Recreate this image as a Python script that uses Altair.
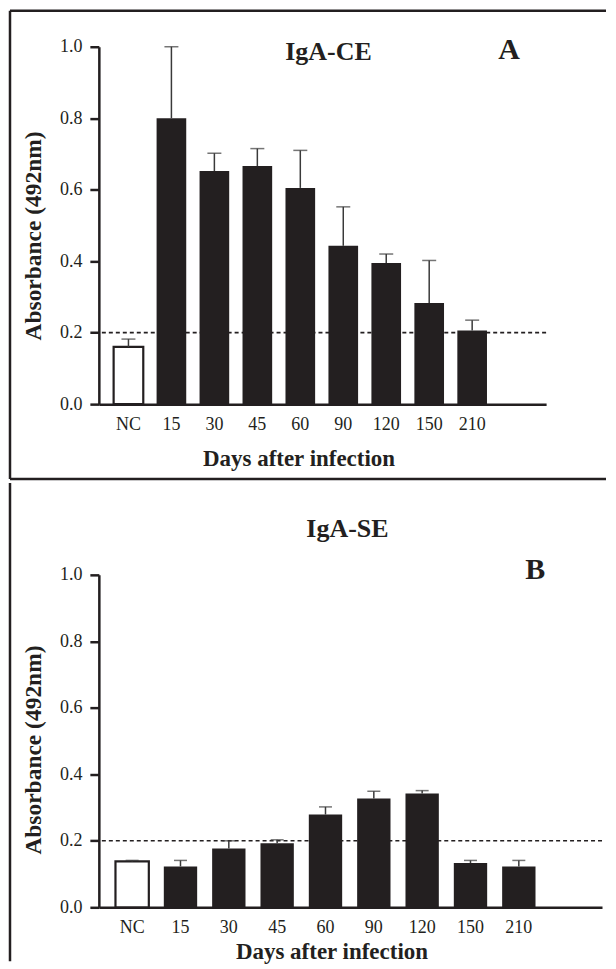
import altair as alt
import pandas as pd

days = ["NC", "15", "30", "45", "60", "90", "120", "150", "210"]
groups = ["NC", "inf", "inf", "inf", "inf", "inf", "inf", "inf", "inf"]

a_mean = [0.160, 0.800, 0.652, 0.666, 0.605, 0.443, 0.395, 0.283, 0.206]
a_upper = [0.182, 1.000, 0.702, 0.715, 0.710, 0.552, 0.420, 0.402, 0.235]

b_mean = [0.138, 0.123, 0.177, 0.193, 0.279, 0.327, 0.342, 0.133, 0.123]
b_upper = [0.141, 0.141, 0.200, 0.203, 0.302, 0.349, 0.351, 0.141, 0.141]

y_ticks = [0.0, 0.2, 0.4, 0.6, 0.8, 1.0]
cutoff = [0.2]

INK = "#231f20"
FONT = "Liberation Serif"
YTITLE = "Absorbance (492nm)"
XTITLE = "Days after infection"


def panel(mean, upper, W, H, title_txt, title_xy, letter, letter_xy,
          xtitle_xy, ytitle_xy, cap, frame):
    df = pd.DataFrame({"day": days, "mean": mean, "upper": upper, "grp": groups})
    xscale = alt.Scale(paddingInner=0.31, paddingOuter=0.86, align=0.2)
    yscale = alt.Scale(domain=[0, 1], nice=False)
    xaxis = alt.Axis(title=XTITLE, ticks=False, tickSize=0, labelPadding=11,
                     labelAngle=0, labelFont=FONT, labelFontSize=18, labelColor=INK,
                     domainColor=INK, domainWidth=2.5,
                     titleFont=FONT, titleFontSize=23, titleFontWeight="bold",
                     titleColor=INK, titleX=xtitle_xy[0], titleY=xtitle_xy[1],
                     titleBaseline="alphabetic", titleAlign="center")
    yaxis = alt.Axis(title=YTITLE, values=y_ticks, format=".1f", grid=False,
                     tickSize=9, tickWidth=2.5, tickColor=INK,
                     domainColor=INK, domainWidth=2.5, labelPadding=8,
                     labelFont=FONT, labelFontSize=18, labelColor=INK,
                     titleFont=FONT, titleFontSize=23.5, titleFontWeight="bold",
                     titleColor=INK, titleAngle=270, titleX=ytitle_xy[0],
                     titleY=ytitle_xy[1], titleBaseline="alphabetic",
                     titleAlign="center")
    x_main = alt.X("day:N", sort=days, scale=xscale, axis=xaxis)
    x_plain = alt.X("day:N", sort=days, scale=xscale)

    base = alt.Chart(df)
    thresh = alt.Chart(pd.DataFrame({"t": cutoff})).mark_rule(
        strokeDash=[4, 3], strokeWidth=1.6, color=INK
    ).encode(y=alt.Y("t:Q", scale=yscale, title=YTITLE))
    bars = base.mark_bar(stroke=INK).encode(
        x=x_main,
        y=alt.Y("mean:Q", scale=yscale, axis=yaxis, title=YTITLE),
        fill=alt.Fill("grp:N", scale=alt.Scale(domain=["NC", "inf"], range=["white", INK]), legend=None),
        strokeWidth=alt.StrokeWidth("grp:N", scale=alt.Scale(domain=["NC", "inf"], range=[2.2, 0]), legend=None),
    )
    stems = base.mark_rule(color="#3a3a3a", strokeWidth=1.5).encode(
        x=x_plain, y=alt.Y("mean:Q", scale=yscale, title=YTITLE), y2="upper:Q"
    )
    caps = base.mark_tick(color="#3a3a3a", thickness=1.5, size=cap).encode(
        x=x_plain, y=alt.Y("upper:Q", scale=yscale, title=YTITLE)
    )
    one = pd.DataFrame({"k": [0]})
    ttl = alt.Chart(pd.DataFrame({"t": [title_txt]})).mark_text(
        font=FONT, fontSize=26, fontWeight="bold", color=INK, align="center",
        baseline="alphabetic"
    ).encode(text="t:N", x=alt.value(title_xy[0]), y=alt.value(title_xy[1]))
    let = alt.Chart(pd.DataFrame({"t": [letter]})).mark_text(
        font=FONT, fontSize=30, fontWeight="bold", color=INK, align="center",
        baseline="alphabetic"
    ).encode(text="t:N", x=alt.value(letter_xy[0]), y=alt.value(letter_xy[1]))
    layers = [thresh, bars, stems, caps, ttl, let]
    for (x1, x2, y1, y2) in frame:
        enc = {"x": alt.value(x1), "y": alt.value(y1)}
        if x2 is not None:
            enc["x2"] = alt.value(x2)
        if y2 is not None:
            enc["y2"] = alt.value(y2)
        layers.append(alt.Chart(one).mark_rule(color=INK, strokeWidth=2.5).encode(**enc))
    return alt.layer(*layers).properties(width=W, height=H)


panel_a = panel(a_mean, a_upper, 448, 358, "IgA-CE", (230, 13), "A", (411, 12),
                (200, 61), (-58, 189), 14,
                [(-89, 508, -36, None), (-89, None, -36, 433), (-89, 508, 433, None)])
panel_b = panel(b_mean, b_upper, 504, 333, "IgA-SE", (249, -38), "B", (437, 4),
                (233, 51), (-58, 175), 13,
                [(-89, None, -92, 387)])

chart = alt.vconcat(panel_a, panel_b, spacing=0).properties(
    padding=0
).configure(font=FONT).configure_view(stroke=None)

chart.save("out.html", embed_options={"renderer": "svg", "actions": False})
